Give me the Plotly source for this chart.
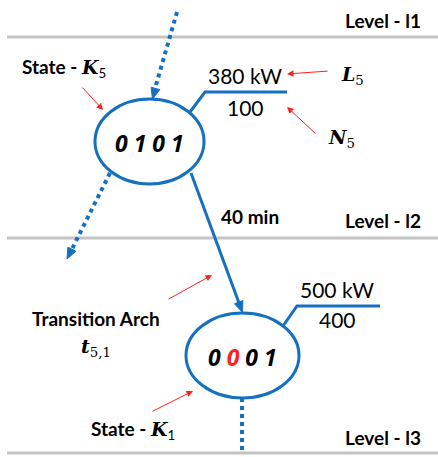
import math
import plotly.graph_objects as go

# ---- diagram content ----
level_labels = ["Level - l1", "Level - l2", "Level - l3"]
state_codes = [["0", "1", "0", "1"], ["0", "0", "0", "1"]]
changed_bit = [None, 1]
loads_kw = [380, 500]
counts = [100, 400]
transition_time = "40 min"

# ---- layout geometry (pixels, y downward) ----
W, H = 438, 457
BLUE = "#1670c0"
RED = "#ff2020"
GRAY = "#c4c4c4"
TXT = "Lato"
level_y = [37, 238, 453]
level_label_y = [20, 220, 437]
nodes = [dict(cx=149.5, cy=141.5, rx=54.5, ry=42.5),
         dict(cx=242.5, cy=355.5, rx=56.5, ry=42.5)]
callouts = [dict(p0=(190, 112), p1=(205, 92), x2=287, tx=245, ty_top=75, ty_bot=107),
            dict(p0=(283, 326), p1=(297, 306), x2=380, tx=337, ty_top=289, ty_bot=319)]

shapes = []
annotations = []

def arrowhead(tip, frm, size=11, width=9):
    dx, dy = tip[0] - frm[0], tip[1] - frm[1]
    L = math.hypot(dx, dy)
    ux, uy = dx / L, dy / L
    bx, by = tip[0] - ux * size, tip[1] - uy * size
    px, py = -uy * width / 2, ux * width / 2
    path = f"M {tip[0]} {tip[1]} L {bx+px} {by+py} L {bx-px} {by-py} Z"
    shapes.append(dict(type="path", path=path, fillcolor=BLUE, line=dict(color=BLUE, width=1)))

# level lines
for y in level_y:
    shapes.append(dict(type="line", x0=7, x1=438, y0=y, y1=y, line=dict(color=GRAY, width=3)))
for lab, y in zip(level_labels, level_label_y):
    annotations.append(dict(x=383, y=y, text="<b>" + lab + "</b>", showarrow=False,
                            font=dict(family=TXT, size=19, color="black")))

# nodes
for n, code, cb in zip(nodes, state_codes, changed_bit):
    shapes.append(dict(type="circle", x0=n["cx"] - n["rx"], x1=n["cx"] + n["rx"],
                       y0=n["cy"] - n["ry"], y1=n["cy"] + n["ry"],
                       line=dict(color=BLUE, width=3)))
    parts = []
    for i, c in enumerate(code):
        if i == cb:
            parts.append(f"<span style='color:{RED}'>{c}</span>")
        else:
            parts.append(c)
    annotations.append(dict(x=n["cx"], y=n["cy"] + 1, text="<b><i>" + " ".join(parts) + "</i></b>",
                            showarrow=False, font=dict(family="Open Sans", size=23, color="black")))

# callouts with load / count
for c, kw, cnt in zip(callouts, loads_kw, counts):
    shapes.append(dict(type="path",
                       path=f"M {c['p0'][0]} {c['p0'][1]} L {c['p1'][0]} {c['p1'][1]} L {c['x2']} {c['p1'][1]}",
                       line=dict(color=BLUE, width=3)))
    annotations.append(dict(x=c["tx"], y=c["ty_top"], text=f"{kw} kW", showarrow=False,
                            font=dict(family=TXT, size=21, color="black")))
    annotations.append(dict(x=c["tx"], y=c["ty_bot"], text=f"{cnt}", showarrow=False,
                            font=dict(family=TXT, size=21, color="black")))

# incoming dotted arrow to node 1
shapes.append(dict(type="line", x0=177, y0=12, x1=154, y1=92, line=dict(color=BLUE, width=4, dash="dot")))
arrowhead((152.5, 99), (177, 12))
# outgoing dotted arrow from node 1
shapes.append(dict(type="line", x0=110, y0=173, x1=72, y1=249, line=dict(color=BLUE, width=4, dash="dot")))
arrowhead((67, 259), (110, 173))
# solid transition arrow
shapes.append(dict(type="line", x0=191, y0=173, x1=239, y1=303, line=dict(color=BLUE, width=3)))
arrowhead((242.5, 312.5), (191, 173))
# dotted line below node 2
shapes.append(dict(type="line", x0=242, y0=398, x1=242, y1=453, line=dict(color=BLUE, width=4, dash="dot")))

annotations.append(dict(x=250, y=216, text="<b>" + transition_time + "</b>", showarrow=False,
                        font=dict(family=TXT, size=19, color="black")))

# labels with red arrows
def red_arrow(tail, head):
    annotations.append(dict(x=head[0], y=head[1], ax=tail[0], ay=tail[1], xref="x", yref="y",
                            axref="x", ayref="y", text="", showarrow=True, arrowhead=2,
                            arrowsize=1.3, arrowwidth=1, arrowcolor=RED))

MATH = "DejaVu Serif"
annotations.append(dict(x=64, y=68, text="<b>State - </b><b><i><span style='font-family:DejaVu Serif'>K</span></i></b><sub>5</sub>",
                        showarrow=False, font=dict(family=TXT, size=19, color="black")))
red_arrow((81, 86), (103, 110))
annotations.append(dict(x=352, y=75, text="<b><i>L</i></b><sub>5</sub>", showarrow=False,
                        font=dict(family=MATH, size=19, color="black")))
red_arrow((329, 71), (287, 74))
annotations.append(dict(x=341, y=138, text="<b><i>N</i></b><sub>5</sub>", showarrow=False,
                        font=dict(family=MATH, size=19, color="black")))
red_arrow((317, 135), (287, 107))
annotations.append(dict(x=96, y=318, text="<b>Transition Arch</b>", showarrow=False,
                        font=dict(family=TXT, size=19, color="black")))
annotations.append(dict(x=96, y=347, text="<b><i>t</i></b><sub>5,1</sub>", showarrow=False,
                        font=dict(family=MATH, size=19, color="black")))
red_arrow((167, 300), (212, 275))
annotations.append(dict(x=133, y=430, text="<b>State - </b><b><i><span style='font-family:DejaVu Serif'>K</span></i></b><sub>1</sub>",
                        showarrow=False, font=dict(family=TXT, size=19, color="black")))
red_arrow((151, 412), (193, 391))

fig = go.Figure()
fig.update_layout(width=W, height=H, margin=dict(l=0, r=0, t=0, b=0),
                  paper_bgcolor="white", plot_bgcolor="white",
                  xaxis=dict(range=[0, W], visible=False, fixedrange=True),
                  yaxis=dict(range=[H, 0], visible=False, fixedrange=True),
                  shapes=shapes, annotations=annotations, showlegend=False)
fig.write_html("out.html", config={"displayModeBar": False},
               post_script="document.body.style.margin='0';document.body.style.overflow='hidden';")
